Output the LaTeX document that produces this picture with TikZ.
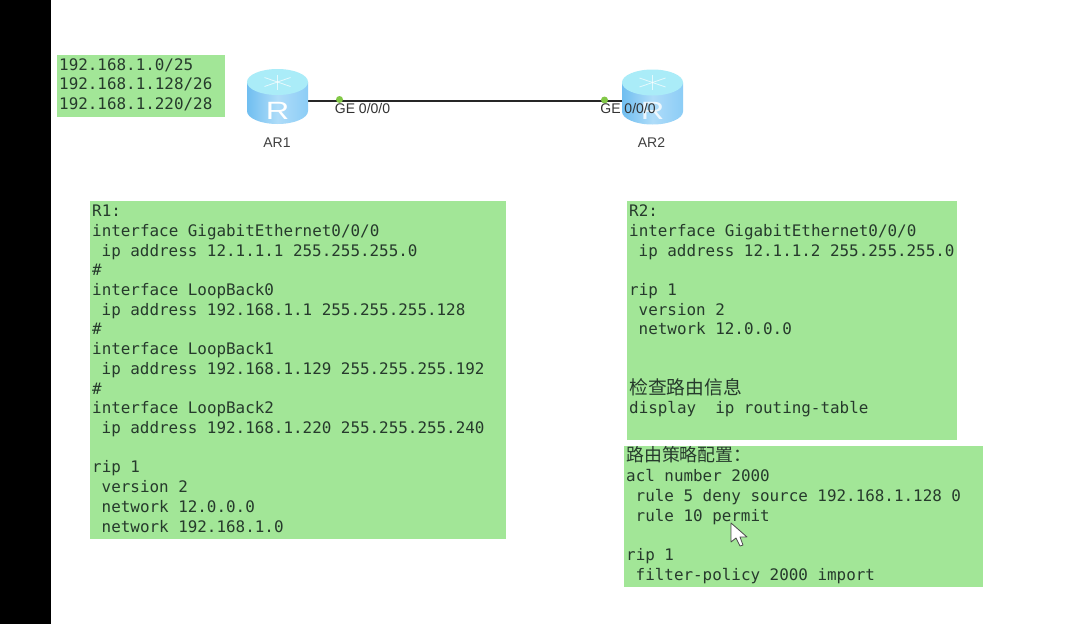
\documentclass[tikz,border=0pt]{standalone}
\usepackage{fontspec}
\setmainfont{Liberation Sans}
\setmonofont{DejaVu Sans Mono}
\newfontfamily\cjk{Noto Sans CJK SC}
\usetikzlibrary{positioning,backgrounds}
\newcommand{\ind}{\hspace*{0.6em}}
\definecolor{boxgreen}{RGB}{162,230,151}
\definecolor{boxtext}{RGB}{38,58,44}
\definecolor{routerleft}{RGB}{112,190,240}
\definecolor{routerright}{RGB}{140,205,246}
\definecolor{routertop}{RGB}{170,236,248}
\definecolor{portdot}{RGB}{130,200,70}

\begin{document}
\begin{tikzpicture}[x=1pt, y=-1pt, node distance = 1.3cm,
    cfgbox/.style = {fill=boxgreen, text=boxtext, inner xsep=2pt, inner ysep=0pt, anchor=north west, align=left,
        font=\ttfamily\fontsize{15.9}{19.72}\selectfont,
        execute at begin node={\spaceskip=0.6em\xspaceskip=0.6em\relax}},
    router/.style = {minimum width=61pt, minimum height=55pt, inner sep=0pt},
    routerR/.style = {text=white, font=\fontsize{25}{25}\selectfont, inner sep=0pt, xscale=1.3},
    routername/.style = {text=black!75, font=\fontsize{14}{14}\selectfont, inner sep=0pt},
    portname/.style = {text=black!80, font=\fontsize{14}{14}\selectfont, inner sep=0pt},
    portdot/.style = {circle, fill=portdot, minimum size=7pt, inner sep=0pt},
    glyph/.style = {white, line width=0.8pt, opacity=0.7}]
    \useasboundingbox (0,0) rectangle (1072,624);
    \fill[black] (0,0) rectangle (51,624);

    \node[router] (AR1) at (277.5,96.5) {};
    \node[router] (AR2) at (652.5,97) {};

    % cylinder and marks of the routers
    \foreach \c in {AR1,AR2} {
        \shade[left color=routerleft, right color=routerright, middle color=routerright!70!white]
            ([shift={(-30.5,-14.5)}]\c.center) -- ++(0,29) arc[start angle=180, end angle=360, x radius=30.5pt, y radius=13pt]
            -- ++(0,-29) -- cycle;
        \fill[routertop] ([shift={(0,-14.5)}]\c.center) ellipse[x radius=30.5pt, y radius=13pt];
        \draw[glyph] ([shift={(-13,-19)}]\c.center) -- ([shift={(13,-10)}]\c.center);
        \draw[glyph] ([shift={(-13,-10)}]\c.center) -- ([shift={(13,-19)}]\c.center);
        \draw[glyph] ([shift={(0,-22)}]\c.center) -- ([shift={(0,-7)}]\c.center);
    }
    \node[routerR] (R1) at (277.5,110.5) {R};
    \node[routerR, opacity=0.8] (R2) at (652.5,110.5) {R};
    \node[routername] (name1) at (277,143) {AR1};
    \node[routername] (name2) at (651.5,143) {AR2};

    \begin{scope}[on background layer]
        \fill[white] (51,0) rectangle (1072,624);
        \draw[line width=2.5pt, black!85] ([yshift=-4.5pt]AR1.center) -- ([yshift=-4pt]AR2.center);
    \end{scope}

    \node[portdot] (p1) at (339.5,99.5) {};
    \node[portdot] (p2) at (604.5,100) {};
    \node[portname] (ge1) at (362.5,108.5) {GE 0/0/0};
    \node[portname] (ge2) at (628,108.5) {GE 0/0/0};

    \node[cfgbox, text width=164pt, minimum height=62pt] (nets) at (57,55) {192.168.1.0/25\\192.168.1.128/26\\192.168.1.220/28\par\vspace{3pt}};

    \node[cfgbox, text width=412pt, minimum height=338pt] (cfg1) at (90,201) {R1:\\
        interface GigabitEthernet0/0/0\\
        \ind ip address 12.1.1.1 255.255.255.0\\
        \#\\
        interface LoopBack0\\
        \ind ip address 192.168.1.1 255.255.255.128\\
        \#\\
        interface LoopBack1\\
        \ind ip address 192.168.1.129 255.255.255.192\\
        \#\\
        interface LoopBack2\\
        \ind ip address 192.168.1.220 255.255.255.240\\
        \mbox{}\\
        rip 1\\
        \ind version 2\\
        \ind network 12.0.0.0\\
        \ind network 192.168.1.0\par\vspace{3pt}};

    \node[cfgbox, text width=326pt, minimum height=239pt] (cfg2) at (627,201) {R2:\\
        interface GigabitEthernet0/0/0\\
        \ind ip address 12.1.1.2 255.255.255.0\\
        \mbox{}\\
        rip 1\\
        \ind version 2\\
        \ind network 12.0.0.0\\
        \mbox{}\\
        \mbox{}\\
        {\cjk\fontsize{18.8}{19.72}\selectfont 检查路由信息}\\
        display\ \ ip routing-table\\
        \mbox{}\par\vspace{3pt}};

    \node[cfgbox, text width=355pt, minimum height=141pt] (policy) at (624,446) {{\cjk\fontsize{17.9}{19.72}\selectfont 路由策略配置：}\\
        acl number 2000\\
        \ind rule 5 deny source 192.168.1.128 0\\
        \ind rule 10 permit\\
        \mbox{}\\
        rip 1\\
        \ind filter-policy 2000 import\par\vspace{3pt}};

    % mouse pointer
    \draw[fill=white, draw=black!70, line width=0.8pt, line join=round] (731,523) -- (731,542) -- (736,538) -- (740,546) -- (743,545) -- (740,537) -- (747,537) -- cycle;
\end{tikzpicture}
\end{document}
